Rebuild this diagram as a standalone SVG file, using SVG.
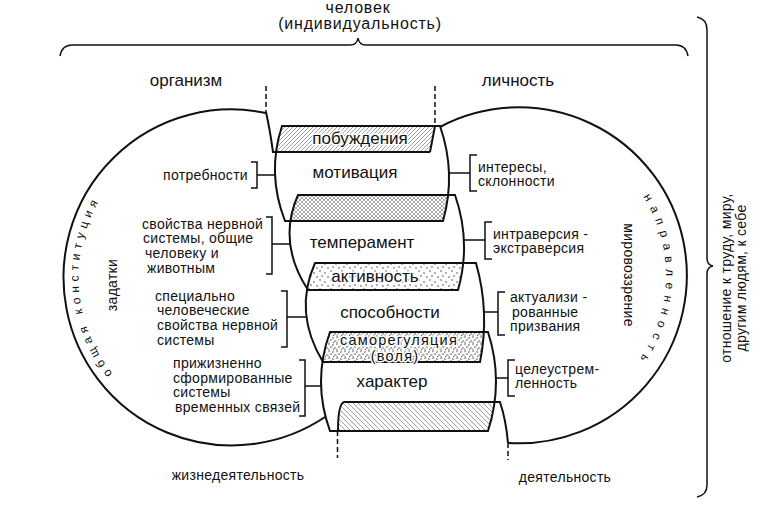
<svg xmlns="http://www.w3.org/2000/svg" width="772" height="508" viewBox="0 0 772 508">
<style>
text{font-family:"Liberation Sans",Arial,sans-serif;fill:#111}
.big{font-size:17px}
.top{font-size:16px;letter-spacing:0.8px}
.sm{font-size:14px;letter-spacing:0.3px}
.arc{font-size:12px}
.ol{fill:none;stroke:#111;stroke-width:2}
.br{fill:none;stroke:#111;stroke-width:1.5}
.dash{fill:none;stroke:#111;stroke-width:1.5;stroke-dasharray:5 3}
.halo{stroke:#fff;stroke-width:3;paint-order:stroke;stroke-linejoin:round}
.mid{text-anchor:middle}
.end{text-anchor:end}
</style>
<defs>
<pattern id="pF" width="4" height="4" patternUnits="userSpaceOnUse"><path d="M-1,1 L1,-1 M0,4 L4,0 M3,5 L5,3" stroke="#777" stroke-width="0.7"/></pattern>
<pattern id="pB" width="5" height="5" patternUnits="userSpaceOnUse"><path d="M-1,-1 L6,6 M-1,4 L1,6 M4,-1 L6,1" stroke="#777" stroke-width="0.7"/></pattern>
<pattern id="pX" width="4" height="4" patternUnits="userSpaceOnUse"><path d="M0,0 L4,4 M4,0 L0,4" stroke="#888" stroke-width="0.7"/></pattern>
<pattern id="pD1" width="11" height="9" patternUnits="userSpaceOnUse"><g fill="#222"><circle cx="1" cy="1" r="0.7"/><circle cx="6" cy="3" r="0.7"/><circle cx="3" cy="6" r="0.7"/><circle cx="9" cy="7" r="0.7"/></g></pattern>
<pattern id="pD2" width="8" height="7" patternUnits="userSpaceOnUse"><g fill="#222"><circle cx="1" cy="1" r="0.7"/><circle cx="5" cy="2" r="0.7"/><circle cx="3" cy="4" r="0.7"/><circle cx="7" cy="5" r="0.7"/><circle cx="1" cy="6" r="0.6"/><circle cx="5.5" cy="6.5" r="0.6"/></g></pattern>
<path id="b1" d="M282,126 L440,126 Q456.5,173.5 443,221 L285,221 Q266.5,173.5 282,126 Z"/>
<path id="b2" d="M298,195 L455,195 Q471.5,242.5 458,290 L308,290 Q277,242.5 298,195 Z"/>
<path id="b3" d="M315,263 L476,263 Q490,312.5 480,362 L323,362 Q293,312.5 315,263 Z"/>
<path id="b4" d="M330,332 L488,332 Q504,381.5 488,431 L330,431 Q312,381.5 330,332 Z"/>
<clipPath id="c0"><path d="M200,60 L435,60 L435,126 L430,152 L273,152 L266,112 L266,60 Z"/></clipPath>
<clipPath id="c1"><use href="#b1"/></clipPath>
<clipPath id="c2"><use href="#b2"/></clipPath>
<clipPath id="c3"><use href="#b3"/></clipPath>
<clipPath id="c5"><path d="M342,402 L500,402 L508,443 L508,470 L338,470 L338,431 Z"/></clipPath>
<path id="tpL" d="M112.6,373.7 A153,153 0 0 1 114.3,179.1"/>
<path id="tpR" d="M643.2,196.7 A147,147 0 0 1 622.8,379.2"/>
</defs>
<rect width="772" height="508" fill="#fff"/>

<g id="header">
<text class="top mid" x="358" y="13">человек</text>
<text class="top mid" x="360" y="29">(индивидуальность)</text>
<path class="br" d="M60,56 Q62,45 72,45 L350,45 Q357,45 358,38 Q359,45 366,45 L676,45 Q686,45 688,56"/>
</g>

<g id="side-brace">
<path class="br" d="M697,17 Q707,19 707,30 L707,258 Q707,265 713,266 Q707,267 707,274 L707,485 Q707,495 697,497"/>
<text class="sm mid" transform="translate(731,278) rotate(-90)">отношение к труду, миру,<tspan x="0" dy="15">другим людям, к себе</tspan></text>
</g>

<g id="organism">
<text class="big mid" x="186" y="86">организм</text>
<path class="ol" d="M266,113 A168,168 0 1 0 325,417"/>
<text class="arc" letter-spacing="4.6"><textPath href="#tpL">общая конституция</textPath></text>
<text class="sm mid" transform="translate(117,285) rotate(-90)">задатки</text>
<text class="sm mid" x="238" y="480">жизнедеятельность</text>
</g>

<g id="personality">
<text class="big mid" x="518" y="86">личность</text>
<path class="ol" d="M440,127 A168,168 0 1 1 508,443"/>
<text class="arc" letter-spacing="6.2"><textPath href="#tpR">направленность</textPath></text>
<text class="sm mid" transform="translate(624,275) rotate(90)">мировоззрение</text>
<text class="sm mid" x="565" y="482">деятельность</text>
</g>

<g id="bands">
<g clip-path="url(#c0)"><use href="#b1" fill="url(#pF)"/></g>
<g clip-path="url(#c1)"><use href="#b2" fill="url(#pX)"/></g>
<g clip-path="url(#c2)"><use href="#b3" fill="url(#pD1)"/></g>
<g clip-path="url(#c3)"><use href="#b4" fill="url(#pD2)"/></g>
<g clip-path="url(#c5)"><use href="#b4" fill="url(#pB)"/></g>
</g>

<g id="shape-top">
<path class="dash" d="M266,86 L266,112 M435,86 L435,126"/>
<path class="ol" d="M266,112 Q270,130 273,152 L430,152 M435,126 L430,152"/>
</g>
<g id="shape-bottom">
<path class="dash" d="M337.5,431 L337.5,458 M508,443 L508,460"/>
<path class="ol" d="M338,431 Q338,404 344,402 L500,402 Q506,420 508,443"/>
</g>

<g id="motivation"><use href="#b1" class="ol"/><text class="big mid" x="355" y="178">мотивация</text></g>
<g id="temperament"><use href="#b2" class="ol"/><text class="big mid" x="362" y="248">темперамент</text></g>
<g id="abilities"><use href="#b3" class="ol"/><text class="big mid" x="390" y="318">способности</text></g>
<g id="character"><use href="#b4" class="ol"/><text class="big mid" x="392" y="387">характер</text></g>

<g id="band-labels">
<text class="big mid halo" x="360" y="144">побуждения</text>
<text class="big mid halo" x="375" y="282">активность</text>
<text class="mid halo" font-size="14.5" letter-spacing="1.2" x="399" y="344.5">саморегуляция</text>
<text class="mid halo" font-size="14.5" letter-spacing="1.2" x="395" y="360.5">(воля)</text>
</g>

<g id="left-labels">
<text class="sm end" x="248" y="180">потребности</text>
<text class="sm" x="142" y="228.5">свойства нервной<tspan x="143" dy="14.7">системы, общие</tspan><tspan x="145" dy="14.7">человеку и</tspan><tspan x="147" dy="14.7">животным</tspan></text>
<text class="sm" x="155" y="300.5">специально<tspan x="157" dy="14.7">человеческие</tspan><tspan x="157" dy="14.7">свойства нервной</tspan><tspan x="157" dy="14.7">системы</tspan></text>
<text class="sm" x="173" y="368">прижизненно<tspan x="173" dy="14.7">сформированные</tspan><tspan x="173" dy="14.7">системы</tspan><tspan x="175" dy="14.7">временных связей</tspan></text>
</g>

<g id="right-labels">
<text class="sm" x="478" y="171.5">интересы,<tspan x="478" dy="14.7">склонности</tspan></text>
<text class="sm" x="493" y="238.5">интраверсия -<tspan x="493" dy="14.7">экстраверсия</tspan></text>
<text class="sm" x="510" y="302">актуализи -<tspan x="512" dy="14.7">рованные</tspan><tspan x="510" dy="14.7">призвания</tspan></text>
<text class="sm" x="515" y="373.5">целеустрем-<tspan x="515" dy="14.7">ленность</tspan></text>
</g>

<g id="connectors">
<path class="br" d="M251,162 L257,162 L257,188 L251,188 M257,175 L276,175"/>
<path class="br" d="M266,217 L272,217 L272,274 L266,274 M272,244 L290,244"/>
<path class="br" d="M281,291 L287,291 L287,347 L281,347 M287,317 L307,317"/>
<path class="br" d="M299,360 L305,360 L305,416 L299,416 M305,386 L322,386"/>
<path class="br" d="M477,155 L470,155 L470,191 L477,191 M449,173 L470,173"/>
<path class="br" d="M492,222 L485,222 L485,259 L492,259 M464,240 L485,240"/>
<path class="br" d="M505,292 L498,292 L498,335 L505,335 M484,312 L498,312"/>
<path class="br" d="M515,360 L508,360 L508,396 L515,396 M496,378 L508,378"/>
</g>
</svg>
